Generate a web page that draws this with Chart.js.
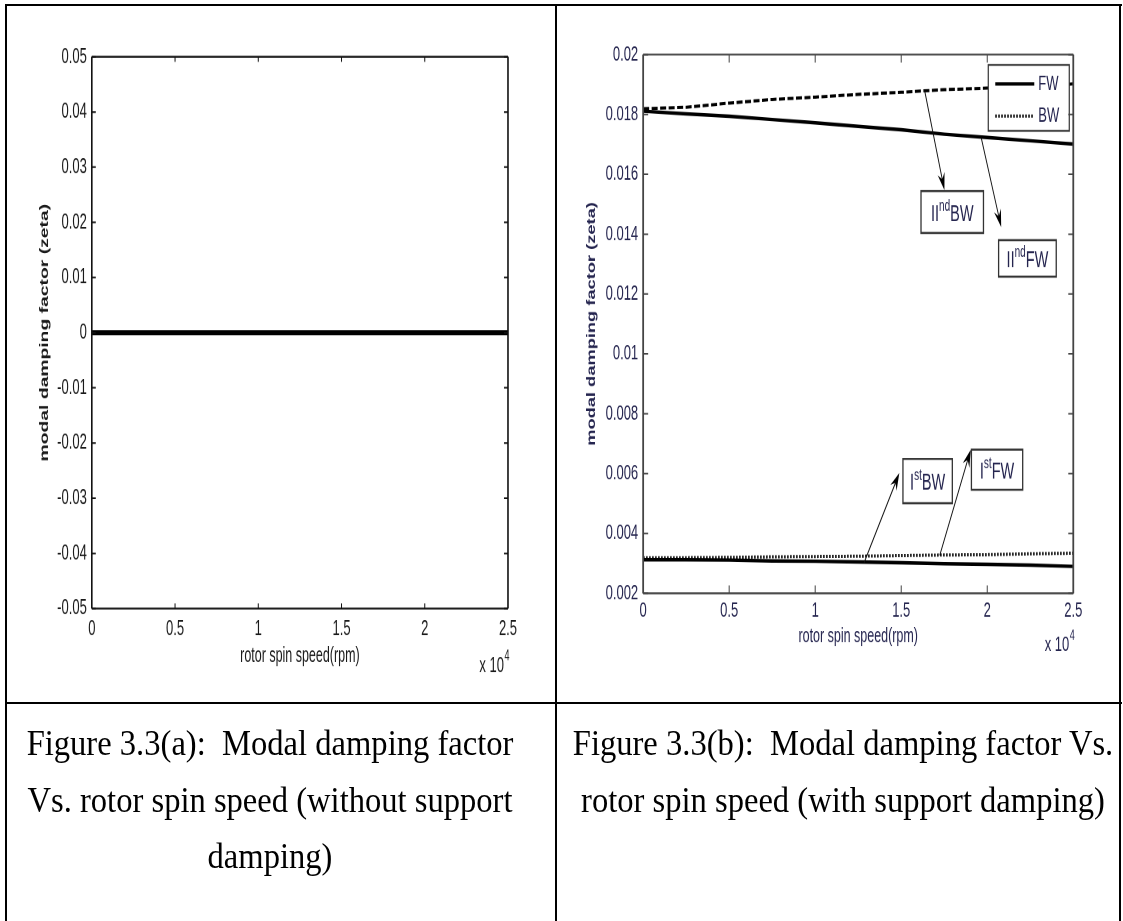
<!DOCTYPE html>
<html>
<head>
<meta charset="utf-8">
<title>Modal damping factor vs rotor spin speed</title>
<script src="https://cdn.jsdelivr.net/npm/chart.js@4.4.1/dist/chart.umd.min.js"></script>
<style>
  html, body { margin: 0; padding: 0; background: #fff; }
  #page { position: relative; width: 1123px; height: 921px; overflow: hidden; background: #fff; }
  .rule { position: absolute; background: #000; }
  canvas.fig { position: absolute; }
  .caption {
    position: absolute;
    font-family: "Liberation Serif", "Times New Roman", serif;
    font-size: 32.6px;
    line-height: 50.5px;
    text-align: center;
    color: #000;
    white-space: nowrap;
    transform-origin: 0 0;
    transform: scaleY(1.12);
  }
</style>
</head>
<body>
<div id="page">
  <!-- both figures are drawn at 4:3 and then stretched to fill their table cell -->
  <canvas id="figA" class="fig" width="537" height="403" style="left:22px;top:6px;width:537px;height:677px"></canvas>
  <canvas id="figB" class="fig" width="555" height="416" style="left:571px;top:5px;width:555px;height:661px"></canvas>

  <div class="rule" style="left:5px;top:4px;width:1117px;height:2px"></div>
  <div class="rule" style="left:5px;top:4px;width:2px;height:917px"></div>
  <div class="rule" style="left:555px;top:4px;width:2px;height:917px"></div>
  <div class="rule" style="left:1119px;top:4px;width:2px;height:917px"></div>
  <div class="rule" style="left:5px;top:702px;width:1117px;height:2px"></div>

  <div class="caption" style="left:6px;width:528px;top:715px">Figure 3.3(a):&nbsp; Modal damping factor<br>Vs. rotor spin speed (without support<br>damping)</div>
  <div class="caption" style="left:560px;width:566px;top:715px">Figure 3.3(b):&nbsp; Modal damping factor Vs.<br>rotor spin speed (with support damping)</div>
</div>

<script>
// spin speed samples (rpm)
const speedRpm = [0, 2500, 5000, 7500, 10000, 12500, 15000, 17500, 20000, 22500, 25000];
const xTickValues = [0, 5000, 10000, 15000, 20000, 25000];

// (a) without support damping: every mode sits on zero
const zetaNoSupport = [0, 0, 0, 0, 0, 0, 0, 0, 0, 0, 0];
const yTicksA = [-0.05, -0.04, -0.03, -0.02, -0.01, 0, 0.01, 0.02, 0.03, 0.04, 0.05];

// (b) with support damping
const zetaFW2 = [0.01811, 0.01802, 0.01794, 0.01783, 0.01772, 0.01760, 0.01749, 0.01734, 0.01723, 0.01712, 0.01701];
const zetaBW2 = [0.01819, 0.01824, 0.01838, 0.01850, 0.01858, 0.01867, 0.01874, 0.01883, 0.01888, 0.01894, 0.01902];
const zetaFW1 = [0.00312, 0.00312, 0.00311, 0.00308, 0.00307, 0.00305, 0.00302, 0.00299, 0.00297, 0.00294, 0.00290];
const zetaBW1 = [0.00319, 0.00319, 0.00320, 0.00322, 0.00323, 0.00324, 0.00326, 0.00328, 0.00329, 0.00332, 0.00334];
const yTicksB = [0.002, 0.004, 0.006, 0.008, 0.01, 0.012, 0.014, 0.016, 0.018, 0.02];

// text boxes with arrows pointing at the curves, in axis units
const modeNotes = [
  { base: "II", sup: "nd", tail: "BW", box: [16150, 0.01544, 19780, 0.01404], from: [16360, 0.01880], to: [17510, 0.01547] },
  { base: "II", sup: "nd", tail: "FW", box: [20660, 0.01380, 24010, 0.01258], from: [19650, 0.01722], to: [20810, 0.01424] },
  { base: "I", sup: "st", tail: "BW", box: [15100, 0.00649, 17970, 0.00501], from: [12840, 0.00302], to: [14890, 0.00602] },
  { base: "I", sup: "st", tail: "FW", box: [19080, 0.00680, 22060, 0.00546], from: [17240, 0.00327], to: [19040, 0.00680] },
];

const FONT = '"Liberation Sans", Arial, Helvetica, sans-serif';

const pts = (ys) => speedRpm.map((s, i) => ({ x: s, y: ys[i] }));
const fmt = (digits) => (v) => String(Number(Number(v).toFixed(digits)));

// box round the axes with inward ticks on all four sides
const matlabFrame = {
  id: "matlabFrame",
  afterDatasetsDraw(chart, args, o) {
    const { ctx, chartArea: a, scales: { x, y } } = chart;
    ctx.save();
    ctx.strokeStyle = o.color;
    ctx.lineWidth = o.hLine;
    ctx.beginPath();
    ctx.moveTo(a.left, a.top); ctx.lineTo(a.right, a.top);
    ctx.moveTo(a.left, a.bottom); ctx.lineTo(a.right, a.bottom);
    ctx.stroke();
    ctx.lineWidth = o.vLine;
    ctx.beginPath();
    ctx.moveTo(a.left, a.top); ctx.lineTo(a.left, a.bottom);
    ctx.moveTo(a.right, a.top); ctx.lineTo(a.right, a.bottom);
    ctx.stroke();

    ctx.lineWidth = o.tickWidth;
    ctx.beginPath();
    x.ticks.forEach((t) => {
      const p = x.getPixelForValue(t.value);
      ctx.moveTo(p, a.bottom); ctx.lineTo(p, a.bottom - o.xTickLen);
      ctx.moveTo(p, a.top); ctx.lineTo(p, a.top + o.xTickLen);
    });
    y.ticks.forEach((t) => {
      const p = y.getPixelForValue(t.value);
      ctx.moveTo(a.left, p); ctx.lineTo(a.left + o.yTickLen, p);
      ctx.moveTo(a.right, p); ctx.lineTo(a.right - o.yTickLen, p);
    });
    ctx.stroke();
    ctx.restore();
  },
};

// "x 10^4" multiplier under the right end of the x axis
const exponentNote = {
  id: "exponentNote",
  afterDraw(chart, args, o) {
    const { ctx, chartArea: a } = chart;
    ctx.save();
    ctx.fillStyle = o.color;
    ctx.textBaseline = "middle";
    ctx.textAlign = "left";
    ctx.font = `9px ${FONT}`;
    const wSup = ctx.measureText(o.power).width;
    ctx.font = `13px ${FONT}`;
    const wBase = ctx.measureText(o.base).width;
    const right = a.right + o.dx;
    const yy = a.bottom + o.dy;
    ctx.fillText(o.base, right - wSup - wBase, yy);
    ctx.font = `9px ${FONT}`;
    ctx.fillText(o.power, right - wSup + 0.5, yy - 6);
    ctx.restore();
  },
};

// boxed legend in the top right corner of the axes
const cornerLegend = {
  id: "cornerLegend",
  afterDatasetsDraw(chart, args, o) {
    if (!o.items) return;
    const { ctx, chartArea: a } = chart;
    const x1 = a.right - o.insetRight;
    const x0 = x1 - o.width;
    const y0 = a.top + o.insetTop;
    ctx.save();
    ctx.fillStyle = "#fff";
    ctx.fillRect(x0, y0, o.width, o.height);
    ctx.strokeStyle = o.borderColor;
    ctx.lineWidth = 1.2;
    ctx.strokeRect(x0, y0, o.width, o.height);
    o.items.forEach((idx, i) => {
      const ds = chart.data.datasets[idx];
      const yy = y0 + o.rowTop + i * o.rowGap;
      ctx.strokeStyle = ds.borderColor;
      ctx.lineWidth = ds.borderWidth;
      ctx.setLineDash(ds.borderDash || []);
      ctx.beginPath();
      ctx.moveTo(x0 + 7, yy);
      ctx.lineTo(x0 + 46, yy);
      ctx.stroke();
      ctx.setLineDash([]);
      ctx.fillStyle = o.color;
      ctx.font = `13px ${FONT}`;
      ctx.textBaseline = "middle";
      ctx.fillText(ds.label, x0 + 50, yy);
    });
    ctx.restore();
  },
};

// labelled boxes with notched arrows
const modeCallouts = {
  id: "modeCallouts",
  afterDatasetsDraw(chart, args, o) {
    if (!o.items) return;
    const { ctx, scales: { x, y } } = chart;
    ctx.save();
    o.items.forEach((c) => {
      const bx0 = x.getPixelForValue(c.box[0]);
      const by0 = y.getPixelForValue(c.box[1]);
      const bx1 = x.getPixelForValue(c.box[2]);
      const by1 = y.getPixelForValue(c.box[3]);
      ctx.fillStyle = "#fff";
      ctx.fillRect(bx0, by0, bx1 - bx0, by1 - by0);
      ctx.strokeStyle = "#333";
      ctx.lineWidth = 1.3;
      ctx.strokeRect(bx0, by0, bx1 - bx0, by1 - by0);

      ctx.fillStyle = o.color;
      ctx.textBaseline = "middle";
      ctx.font = `14.5px ${FONT}`;
      const wBase = ctx.measureText(c.base).width;
      const wTail = ctx.measureText(c.tail).width;
      ctx.font = `10px ${FONT}`;
      const wSup = ctx.measureText(c.sup).width;
      const total = wBase + wSup + wTail;
      let tx = (bx0 + bx1) / 2 - total / 2;
      const ty = (by0 + by1) / 2 + 1.5;
      ctx.font = `14.5px ${FONT}`;
      ctx.fillText(c.base, tx, ty);
      tx += wBase;
      ctx.font = `10px ${FONT}`;
      ctx.fillText(c.sup, tx, ty - 5);
      tx += wSup;
      ctx.font = `14.5px ${FONT}`;
      ctx.fillText(c.tail, tx, ty);

      const fx = x.getPixelForValue(c.from[0]);
      const fy = y.getPixelForValue(c.from[1]);
      const ex = x.getPixelForValue(c.to[0]);
      const ey = y.getPixelForValue(c.to[1]);
      const len = Math.hypot(ex - fx, ey - fy);
      const ux = (ex - fx) / len, uy = (ey - fy) / len;
      const nx = -uy, ny = ux;
      const head = 11, half = 3.6;
      ctx.strokeStyle = "#111";
      ctx.lineWidth = 0.9;
      ctx.beginPath();
      ctx.moveTo(fx, fy);
      ctx.lineTo(ex - ux * head * 0.6, ey - uy * head * 0.6);
      ctx.stroke();
      ctx.fillStyle = "#000";
      ctx.beginPath();
      ctx.moveTo(ex, ey);
      ctx.lineTo(ex - ux * head + nx * half, ey - uy * head + ny * half);
      ctx.lineTo(ex - ux * head * 0.65, ey - uy * head * 0.65);
      ctx.lineTo(ex - ux * head - nx * half, ey - uy * head - ny * half);
      ctx.closePath();
      ctx.fill();
    });
    ctx.restore();
  },
};

function axes(p) {
  const tickFont = { family: FONT, size: 13 };
  return {
    x: {
      type: "linear",
      min: 0,
      max: 25000,
      afterBuildTicks: (s) => { s.ticks = xTickValues.map((v) => ({ value: v })); },
      afterFit: (s) => { s.height = p.H * 0.11; },
      grid: { display: false, drawTicks: false },
      border: { display: false },
      ticks: { color: p.color, font: tickFont, padding: p.xPad, maxRotation: 0, autoSkip: false, callback: (v) => String(v / 1e4) },
      title: { display: true, text: "rotor spin speed(rpm)", color: p.color, font: { family: FONT, size: 12.5 }, padding: { top: 0, bottom: p.xTitlePad } },
    },
    y: {
      type: "linear",
      min: p.yMin,
      max: p.yMax,
      afterBuildTicks: (s) => { s.ticks = p.yTicks.map((v) => ({ value: v })); },
      afterFit: (s) => { s.width = p.W * 0.13; },
      grid: { display: false, drawTicks: false },
      border: { display: false },
      ticks: { color: p.color, font: tickFont, padding: 5, autoSkip: false, callback: fmt(p.digits) },
      title: { display: true, text: "modal damping factor (zeta)", color: p.color, font: { family: FONT, size: 11.5, weight: "bold" }, padding: { top: p.yTitlePad, bottom: 0 } },
    },
  };
}

function baseOptions(p) {
  return {
    responsive: false,
    devicePixelRatio: 2,
    animation: false,
    events: [],
    layout: { padding: { left: 0, top: p.H * 0.075, right: p.W * 0.095, bottom: 0 } },
    scales: axes(p),
    plugins: {
      legend: { display: false },
      tooltip: { enabled: false },
      matlabFrame: { color: p.frameColor, hLine: p.hLine, vLine: p.vLine, tickWidth: 1, xTickLen: p.xTickLen, yTickLen: p.yTickLen },
      exponentNote: { color: p.color, base: "x 10", power: "4", dx: 1, dy: p.expDy },
    },
  };
}

const line = (label, ys, extra) => Object.assign({
  label,
  data: pts(ys),
  borderColor: "#000",
  backgroundColor: "#000",
  borderWidth: 2,
  pointRadius: 0,
  tension: 0,
  fill: false,
}, extra);

// figure (a)
const optsA = baseOptions({
  W: 537, H: 403, yMin: -0.05, yMax: 0.05, yTicks: yTicksA, digits: 2,
  color: "#1a1a1a", frameColor: "#111", hLine: 1.2, vLine: 1.6,
  xPad: 4.7, xTitlePad: 8.6, yTitlePad: 15.8, xTickLen: 3, yTickLen: 4, expDy: 34.5,
});
new Chart(document.getElementById("figA"), {
  type: "line",
  data: { datasets: [line("zeta", zetaNoSupport, { borderWidth: 3 })] },
  options: optsA,
  plugins: [matlabFrame, exponentNote],
});

// figure (b)
const optsB = baseOptions({
  W: 555, H: 416, yMin: 0.002, yMax: 0.02, yTicks: yTicksB, digits: 3,
  color: "#25254f", frameColor: "#444", hLine: 1.2, vLine: 1.8,
  xPad: 3.4, xTitlePad: 10.8, yTitlePad: 13.8, xTickLen: 5, yTickLen: 5, expDy: 32.6,
});
optsB.plugins.cornerLegend = { items: [0, 3], width: 81, height: 41.5, insetRight: 4, insetTop: 6.5, rowTop: 12, rowGap: 20.2, borderColor: "#333", color: "#25254f" };
optsB.plugins.modeCallouts = { items: modeNotes, color: "#25254f" };
new Chart(document.getElementById("figB"), {
  type: "line",
  data: {
    datasets: [
      line("FW", zetaFW2, { borderWidth: 2.2 }),
      line("BW", zetaBW2, { borderWidth: 2, borderDash: [6, 2.5] }),
      line("FW", zetaFW1, { borderWidth: 2.2 }),
      line("BW", zetaBW1, { borderWidth: 2, borderDash: [1.5, 1.5] }),
    ],
  },
  options: optsB,
  plugins: [modeCallouts, cornerLegend, matlabFrame, exponentNote],
});
</script>
</body>
</html>
